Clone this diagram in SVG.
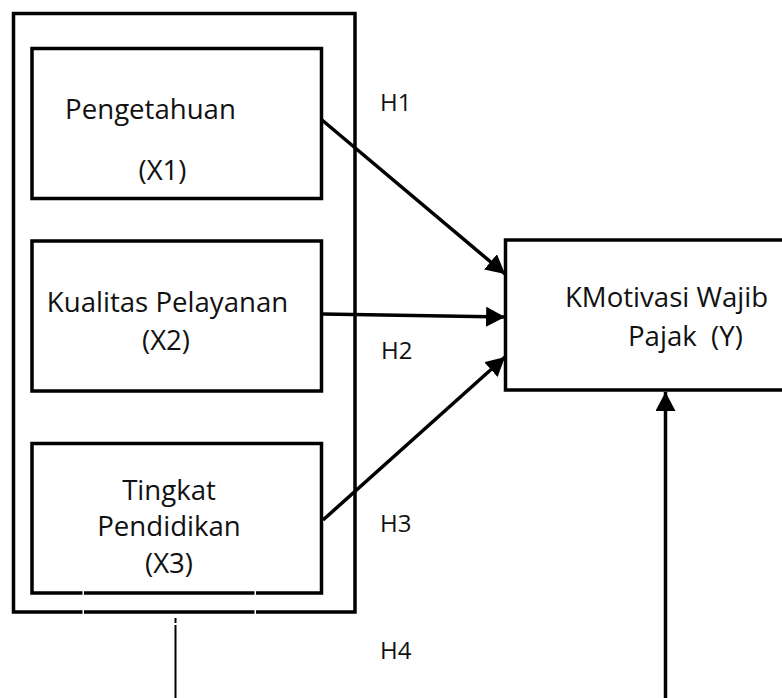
<svg xmlns="http://www.w3.org/2000/svg" width="782" height="698" viewBox="0 0 782 698">
<style>
.box{fill:none;stroke:#000;stroke-width:3.5}
.t{font-family:"Open Sans","Noto Sans",sans-serif;font-size:27.6px;fill:#111}
.h{font-family:"Open Sans","Noto Sans",sans-serif;font-size:24px;fill:#111}
.c{text-anchor:middle}
.arr{stroke:#000;stroke-width:3.5;fill:none;marker-end:url(#ah)}
.thin{stroke:#000;stroke-width:2}
</style>
<defs>
<marker id="ah" markerUnits="userSpaceOnUse" markerWidth="20" markerHeight="20" viewBox="0 0 18 18" refX="17" refY="9" orient="auto">
<path d="M0,0 L17,9 L0,18 Z" fill="#000"/>
</marker>
</defs>
<rect width="782" height="698" fill="#fff"/>
<g id="outer">
<rect class="box" x="13.5" y="13.5" width="341.5" height="598.5"/>
</g>
<g id="x1">
<rect class="box" x="32" y="48.5" width="289.5" height="150"/>
<text class="t c" x="150.5" y="119">Pengetahuan</text>
<text class="t c" x="162.5" y="180">(X1)</text>
</g>
<g id="x2">
<rect class="box" x="32" y="241" width="289.5" height="150"/>
<text class="t c" x="167.5" y="312">Kualitas Pelayanan</text>
<text class="t c" x="166" y="350">(X2)</text>
</g>
<g id="x3">
<rect class="box" x="32" y="443.5" width="289.5" height="149.5"/>
<text class="t c" x="169" y="500">Tingkat</text>
<text class="t c" x="169" y="536">Pendidikan</text>
<text class="t c" x="169" y="573">(X3)</text>
</g>
<g id="gaps" fill="#fff">
<rect x="82.5" y="590" width="1.5" height="25"/>
<rect x="254.5" y="590" width="1.5" height="25"/>
</g>
<g id="y">
<rect class="box" x="505.5" y="240" width="290" height="150"/>
<text class="t c" x="666.5" y="307">KMotivasi Wajib</text>
<text class="t" x="628" y="346" xml:space="preserve">Pajak  (Y)</text>
</g>
<g id="connectors">
<line class="arr" x1="322" y1="120" x2="505" y2="274"/>
<line class="arr" x1="322" y1="314" x2="505" y2="317"/>
<line class="arr" x1="323" y1="520" x2="505" y2="357"/>
<line class="arr" x1="665.5" y1="698" x2="665.5" y2="392"/>
<line class="thin" x1="175.5" y1="618" x2="175.5" y2="623"/>
<line class="thin" x1="175.5" y1="625" x2="175.5" y2="698"/>
</g>
<g id="labels">
<text class="h" x="380" y="111">H1</text>
<text class="h" x="381" y="359">H2</text>
<text class="h" x="380" y="532">H3</text>
<text class="h" x="380" y="659">H4</text>
</g>
</svg>
